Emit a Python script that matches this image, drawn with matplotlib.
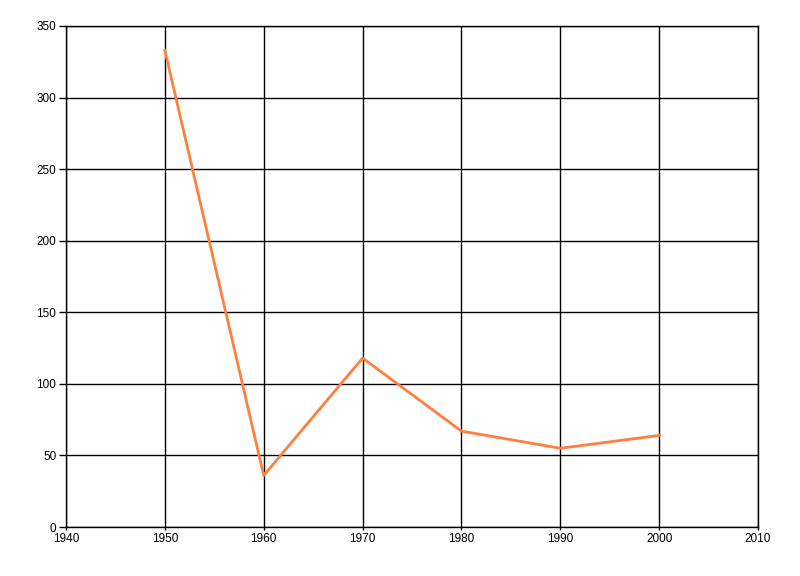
import matplotlib
matplotlib.use("Agg")
import matplotlib.pyplot as plt

years = [1950, 1960, 1970, 1980, 1990, 2000]
values = [333, 36, 118, 67, 55, 64]
x_ticks = [1940, 1950, 1960, 1970, 1980, 1990, 2000, 2010]
y_ticks = [0, 50, 100, 150, 200, 250, 300, 350]

plt.rcParams['font.family'] = ['Liberation Sans', 'DejaVu Sans']

fig = plt.figure(figsize=(8, 5.76), dpi=100)
ax = fig.add_axes([66/800, 1 - 527/576, (758-66)/800, (527-26)/576])
ax.plot(years, values, color='#FF7F40', linewidth=2, zorder=3)
ax.set_xlim(1940, 2010)
ax.set_ylim(0, 350)
ax.set_xticks(x_ticks)
ax.set_yticks(y_ticks)
ax.grid(True, color='black', linewidth=1)
ax.set_axisbelow(True)
for s in ['top', 'right', 'left', 'bottom']:
    ax.spines[s].set_color('black')
    ax.spines[s].set_linewidth(1)
ax.tick_params(axis='y', length=5, width=1, pad=2, labelsize=8.5)
ax.tick_params(axis='x', length=2, width=1, pad=2, labelsize=8.5)
fig.savefig('out.png', dpi=100)
